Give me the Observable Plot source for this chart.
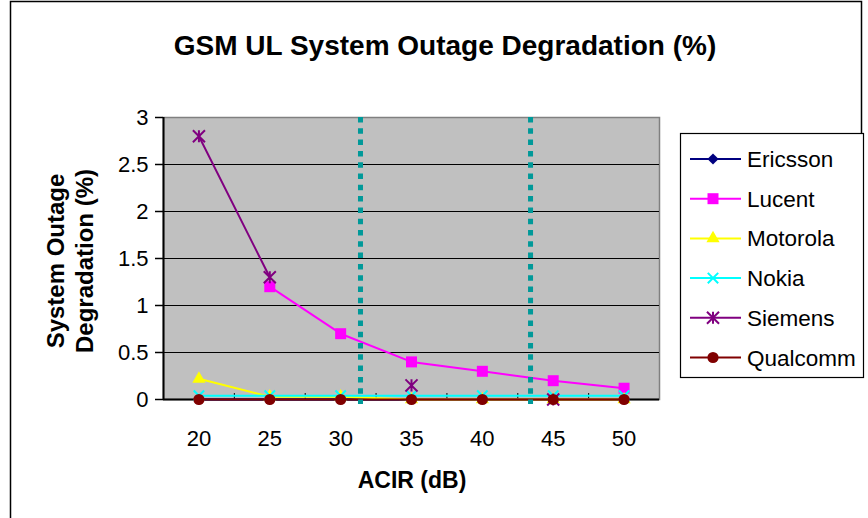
<!DOCTYPE html>
<html>
<head>
<meta charset="utf-8">
<script src="https://cdn.jsdelivr.net/npm/d3@7"></script>
<script src="https://cdn.jsdelivr.net/npm/@observablehq/plot@0.6"></script>
<style>
  html, body { margin: 0; padding: 0; background: #ffffff; }
  svg { display: block; }
</style>
</head>
<body>
<div id="chart"></div>
<script>
// ---- data ----
const acir = [20, 25, 30, 35, 40, 45, 50];
const seriesNames = ["Ericsson", "Lucent", "Motorola", "Nokia", "Siemens", "Qualcomm"];
const ericsson = [0, 0, 0, 0, 0, 0, 0];
const lucent   = [null, 1.2, 0.7, 0.4, 0.3, 0.2, 0.12];
const motorola = [0.22, 0.03, 0.03, 0, 0, 0, 0];
const nokia    = [0.04, 0.04, 0.04, 0.04, 0.04, 0.04, 0.04];
const siemens  = [2.8, 1.3, null, 0.15, null, 0, null];
const qualcomm = [0, 0, 0, 0, 0, 0, 0];
const yTicks = [0, 0.5, 1, 1.5, 2, 2.5, 3];
const xTickLabels = ["20", "25", "30", "35", "40", "45", "50"];
const categoryBounds = [22.5, 27.5, 32.5, 37.5, 42.5, 47.5];
const dividers = [31.4, 43.4];
const titleText = "GSM UL System Outage Degradation (%)";
const xTitle = "ACIR (dB)";
const yTitleLines = ["System Outage", "Degradation (%)"];

const seriesValues = [ericsson, lucent, motorola, nokia, siemens, qualcomm];
const seriesColors = ["#000080", "#FF00FF", "#FFFF00", "#00FFFF", "#800080", "#800000"];

// custom symbols (Excel-like)
const excelDiamond = {draw(ctx, size) {
  const h = Math.sqrt(size) / 2;
  ctx.moveTo(0, -h); ctx.lineTo(h, 0); ctx.lineTo(0, h); ctx.lineTo(-h, 0); ctx.closePath();
}};
const excelStar = {draw(ctx, size) {
  const h = Math.sqrt(size) / 2;
  ctx.moveTo(-h, -h); ctx.lineTo(h, h);
  ctx.moveTo(-h, h); ctx.lineTo(h, -h);
  ctx.moveTo(0, -h); ctx.lineTo(0, h);
}};
const seriesSymbolObjs = [excelDiamond, d3.symbolSquare, d3.symbolTriangle, d3.symbolTimes, excelStar, d3.symbolCircle];
const seriesR = [6.3, 6.2, 4.9, 4.8, 6.8, 5.6];
const seriesFilled = [true, true, true, false, false, true];

const table = [];
seriesNames.forEach((name, si) => {
  acir.forEach((a, i) => table.push({series: name, acir: a, value: seriesValues[si][i]}));
});

const FONT = "'Liberation Sans', Arial, Helvetica, sans-serif";

const seriesMarks = [];
seriesNames.forEach((name, si) => {
  const rows = table.filter(d => d.series === name);
  seriesMarks.push(Plot.line(rows, {
    x: "acir", y: "value", stroke: seriesColors[si], strokeWidth: 2
  }));
  const pts = rows.filter(d => d.value != null);
  seriesMarks.push(Plot.dot(pts, {
    x: "acir", y: "value", symbol: seriesSymbolObjs[si], r: seriesR[si],
    fill: seriesFilled[si] ? seriesColors[si] : "none",
    stroke: seriesColors[si], strokeWidth: seriesFilled[si] ? 0 : 2
  }));
});

const chart = Plot.plot({
  width: 868, height: 518,
  marginLeft: 163, marginRight: 209, marginTop: 117, marginBottom: 119,
  x: {domain: [17.5, 52.5], axis: null},
  y: {domain: [0, 3], axis: null},
  style: {fontFamily: FONT, background: "#ffffff", color: "#000000", overflow: "visible"},
  marks: [
    Plot.frame({fill: "#C0C0C0", stroke: "#808080", strokeWidth: 1.5}),
    Plot.ruleY(yTicks.filter(v => v > 0 && v < 3), {stroke: "#000000", strokeWidth: 1}),
    Plot.ruleX(categoryBounds, {y1: 0, y2: 0, insetTop: -6, stroke: "#000000", strokeWidth: 1}),
    Plot.ruleX([17.5], {stroke: "#000000", strokeWidth: 2}),
    Plot.ruleY([0], {stroke: "#000000", strokeWidth: 2}),
    Plot.axisY({ticks: yTicks, tickSize: 8, tickPadding: 7, fontSize: 22, label: null,
      tickFormat: d => String(d), strokeWidth: 1.5}),
    Plot.axisX({ticks: acir, tickSize: 0, tickPadding: 31, fontSize: 22, label: null,
      tickFormat: (d, i) => xTickLabels[acir.indexOf(d)]}),
    ...seriesMarks,
    Plot.ruleX(dividers, {stroke: "#009999", strokeWidth: 5, strokeDasharray: "5.5,5.8", insetBottom: -5})
  ]
});

const svg = d3.select(chart);

// outer chart border
svg.append("path")
  .attr("d", "M10.5,518 L10.5,1.5 L861.5,1.5 L861.5,134")
  .attr("fill", "none").attr("stroke", "#000000").attr("stroke-width", 1.5);

// title
svg.append("text")
  .attr("x", 445).attr("y", 55)
  .attr("text-anchor", "middle")
  .attr("font-family", FONT).attr("font-weight", "bold").attr("font-size", 28)
  .text(titleText);

// x title
svg.append("text")
  .attr("x", 412).attr("y", 488)
  .attr("text-anchor", "middle")
  .attr("font-family", FONT).attr("font-weight", "bold").attr("font-size", 23)
  .text(xTitle);

// y title (two lines)
yTitleLines.forEach((line, i) => {
  svg.append("text")
    .attr("transform", `translate(${64 + i * 29},261) rotate(-90)`)
    .attr("text-anchor", "middle")
    .attr("font-family", FONT).attr("font-weight", "bold").attr("font-size", 24)
    .text(line);
});

// legend
const lg = svg.append("g");
lg.append("rect")
  .attr("x", 680.5).attr("y", 133.5).attr("width", 183).attr("height", 244)
  .attr("fill", "#ffffff").attr("stroke", "#000000").attr("stroke-width", 1.2);
seriesNames.forEach((name, i) => {
  const y = 159 + i * 39.7;
  lg.append("line").attr("x1", 690).attr("x2", 741).attr("y1", y).attr("y2", y)
    .attr("stroke", seriesColors[i]).attr("stroke-width", 2);
  const size = Math.PI * seriesR[i] * seriesR[i];
  lg.append("path")
    .attr("transform", `translate(713,${y})`)
    .attr("d", d3.symbol(seriesSymbolObjs[i], size)())
    .attr("fill", seriesFilled[i] ? seriesColors[i] : "none")
    .attr("stroke", seriesFilled[i] ? "none" : seriesColors[i])
    .attr("stroke-width", 2);
  lg.append("text")
    .attr("x", 747).attr("y", y + 8)
    .attr("text-anchor", "start")
    .attr("font-family", FONT).attr("font-size", 22.5)
    .text(name);
});

document.getElementById("chart").appendChild(chart);
</script>
</body>
</html>
